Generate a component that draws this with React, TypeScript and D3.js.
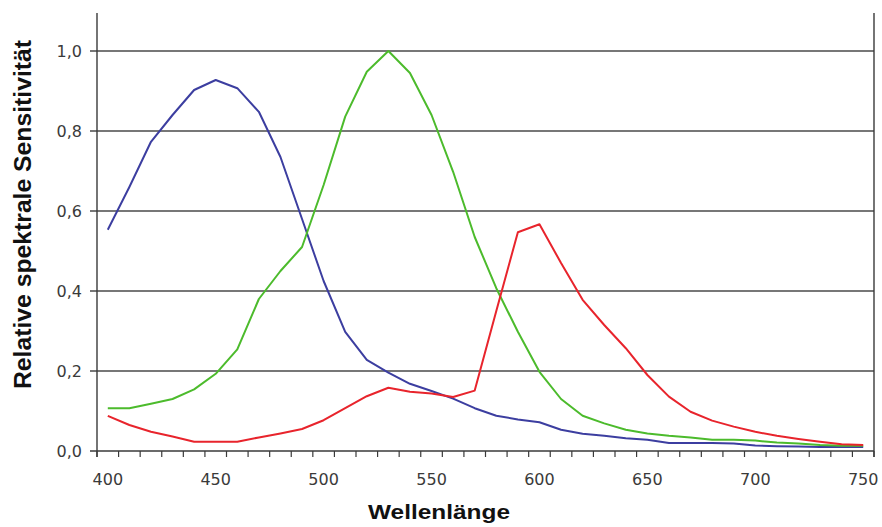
import React from "react";
import * as d3 from "d3";

const wavelengths = [400, 410, 420, 430, 440, 450, 460, 470, 480, 490, 500, 510, 520, 530, 540, 550, 560, 570, 580, 590, 600, 610, 620, 630, 640, 650, 660, 670, 680, 690, 700, 710, 720, 730, 740, 750];

const blueValues = [0.553, 0.66, 0.773, 0.84, 0.9025, 0.9275, 0.907, 0.848, 0.735, 0.58, 0.425, 0.298, 0.228, 0.196, 0.168, 0.15, 0.131, 0.107, 0.088, 0.079, 0.072, 0.053, 0.043, 0.038, 0.032, 0.028, 0.02, 0.02, 0.02, 0.019, 0.014, 0.012, 0.011, 0.01, 0.01, 0.01];

const greenValues = [0.107, 0.107, 0.118, 0.13, 0.154, 0.193, 0.254, 0.38, 0.45, 0.51, 0.665, 0.836, 0.948, 1.0, 0.945, 0.84, 0.698, 0.535, 0.407, 0.298, 0.198, 0.13, 0.088, 0.069, 0.053, 0.044, 0.038, 0.034, 0.028, 0.028, 0.026, 0.021, 0.019, 0.015, 0.013, 0.013];

const redValues = [0.088, 0.065, 0.048, 0.036, 0.023, 0.023, 0.023, 0.034, 0.044, 0.055, 0.077, 0.107, 0.137, 0.158, 0.148, 0.144, 0.135, 0.151, 0.35, 0.547, 0.567, 0.47, 0.378, 0.315, 0.257, 0.19, 0.136, 0.098, 0.076, 0.061, 0.048, 0.038, 0.03, 0.023, 0.017, 0.015];

const yTicks = [0, 0.2, 0.4, 0.6, 0.8, 1.0];
const yTickLabels = ["0,0", "0,2", "0,4", "0,6", "0,8", "1,0"];
const xLabelValues = [400, 450, 500, 550, 600, 650, 700, 750];

const seriesList = [
  { name: "S", values: blueValues, color: "#3c3ea0" },
  { name: "M", values: greenValues, color: "#4cbb2c" },
  { name: "L", values: redValues, color: "#e8242c" },
];

const W = 882;
const H = 527;
const margin = { left: 97, right: 8, top: 13, bottom: 76 };
const yMax = 1.095;

export default function App() {
  const x = d3
    .scaleBand<number>()
    .domain(wavelengths)
    .range([margin.left, W - margin.right])
    .padding(0);
  const bw = x.bandwidth();
  const cx = (d: number) => (x(d) as number) + bw / 2;
  const y = d3.scaleLinear().domain([0, yMax]).range([H - margin.bottom, margin.top]);

  const line = d3
    .line<number>()
    .x((_, i) => cx(wavelengths[i]))
    .y((v) => y(v));

  const x0 = margin.left;
  const x1 = W - margin.right;
  const y0 = y(0);
  const yTop = y(yMax);

  const tickEdges = wavelengths.map((d) => x(d) as number).concat([x1]);

  const axisColor = "#3a3a3a";
  const gridColor = "#4a4a4a";
  const labelColor = "#3a3a3a";

  return (
    <svg
      width={W}
      height={H}
      style={{ position: "absolute", left: 0, top: 0, background: "#ffffff" }}
    >
      <rect x={0} y={0} width={W} height={H} fill="#ffffff" />
      {yTicks.map((t, i) => (
        <line
          key={"g" + i}
          x1={x0 - 7}
          x2={x1}
          y1={y(t)}
          y2={y(t)}
          stroke={t === 0 ? axisColor : gridColor}
          strokeWidth={1.4}
        />
      ))}
      <line x1={x0} x2={x0} y1={yTop} y2={y0 + 6} stroke={axisColor} strokeWidth={1.4} />
      <line x1={x1} x2={x1} y1={yTop} y2={y0 + 6} stroke={axisColor} strokeWidth={1.4} />
      {tickEdges.map((e, i) => (
        <line key={"t" + i} x1={e} x2={e} y1={y0} y2={y0 + 6} stroke={axisColor} strokeWidth={1.2} />
      ))}
      {yTicks.map((t, i) => (
        <text
          key={"yl" + i}
          x={x0 - 15}
          y={y(t)}
          dy="0.36em"
          textAnchor="end"
          fontFamily="DejaVu Sans"
          fontSize={16}
          fill={labelColor}
        >
          {yTickLabels[i]}
        </text>
      ))}
      {xLabelValues.map((v) => (
        <text
          key={"xl" + v}
          x={cx(v)}
          y={y0 + 34}
          textAnchor="middle"
          fontFamily="DejaVu Sans"
          fontSize={16}
          fill={labelColor}
        >
          {v}
        </text>
      ))}
      {seriesList.map((s) => (
        <path
          key={s.name}
          d={line(s.values) || ""}
          fill="none"
          stroke={s.color}
          strokeWidth={2}
          strokeLinejoin="round"
        />
      ))}
      <text
        x={439}
        y={519}
        textAnchor="middle"
        fontFamily="Liberation Sans, Arial, sans-serif"
        fontWeight="bold"
        fontSize={21}
        textLength={142}
        lengthAdjust="spacingAndGlyphs"
        fill="#111"
      >
        Wellenlänge
      </text>
      <text
        transform="translate(31,214.5) rotate(-90)"
        textAnchor="middle"
        fontFamily="Liberation Sans, Arial, sans-serif"
        fontWeight="bold"
        fontSize={23}
        textLength={349}
        lengthAdjust="spacingAndGlyphs"
        fill="#111"
      >
        Relative spektrale Sensitivität
      </text>
    </svg>
  );
}
